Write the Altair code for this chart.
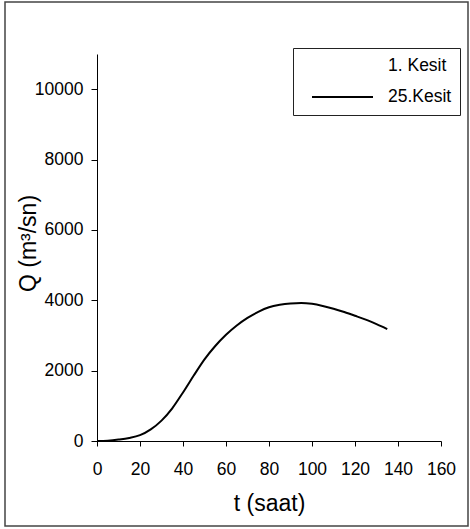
import altair as alt
import pandas as pd

# Discharge hydrograph at cross-section 25 (t in hours, Q in m3/s)
t_saat = [0, 5, 10, 15, 20, 25, 30, 35, 40, 45, 50, 55, 60, 65, 70,
          75, 80, 85, 90, 95, 100, 105, 110, 115, 120, 125, 130, 135]
q_25 = [0, 10, 40, 85, 165, 330, 580, 930, 1380, 1860, 2320, 2700, 3020, 3285, 3500,
        3670, 3800, 3870, 3910, 3925, 3900, 3840, 3760, 3665, 3560, 3450, 3320, 3180]
series_names = ["1. Kesit", "25.Kesit"]
x_ticks = [0, 20, 40, 60, 80, 100, 120, 140, 160]
y_ticks = [0, 2000, 4000, 6000, 8000, 10000]

df = pd.DataFrame({"t": t_saat, "Q": q_25, "Kesit": series_names[1]})

FONT = "Liberation Sans"
W, H = 344, 387
PAD_L, PAD_T = 97, 54

line = alt.Chart(df).mark_line(strokeWidth=2, interpolate="monotone").encode(
    x=alt.X("t:Q",
            scale=alt.Scale(domain=[0, 160], nice=False),
            axis=alt.Axis(values=x_ticks, format="d", title="t (saat)",
                          tickSize=5, labelPadding=14, titleY=62,
                          titleBaseline="middle", labelFlush=False)),
    y=alt.Y("Q:Q",
            scale=alt.Scale(domain=[0, 11000], nice=False),
            axis=alt.Axis(values=y_ticks, format="d", title="Q (m³/sn)",
                          tickSize=6, labelPadding=8, titleX=-69, titleY=189,
                          titleBaseline="middle", labelFlush=False)),
    color=alt.Color("Kesit:N",
                    scale=alt.Scale(domain=series_names, range=["#ffffff", "#000000"]),
                    legend=alt.Legend(title=None, orient="none", legendX=196, legendY=-6,
                                      symbolType="stroke", symbolSize=3721,
                                      symbolStrokeWidth=2, symbolOffset=10,
                                      labelOffset=14, clipHeight=20, rowPadding=11,
                                      padding=8, strokeColor="#222222",
                                      fillColor="#ffffff", labelFontSize=17.5,
                                      labelFont=FONT, labelColor="#000000")),
)

# Outer frame around the whole figure
frame = alt.Chart(alt.Data(values=[{"k": 1}])).mark_rect(
    fill=None, stroke="#444444", strokeWidth=1.5
).encode(
    x=alt.value(5 - PAD_L), x2=alt.value(468 - PAD_L),
    y=alt.value(2 - PAD_T), y2=alt.value(526 - PAD_T),
)

chart = alt.layer(line, frame).properties(
    width=W, height=H,
    autosize=alt.AutoSizeParams(type="none"),
    padding={"left": PAD_L, "top": PAD_T, "right": 470 - PAD_L - W, "bottom": 529 - PAD_T - H},
    background="#ffffff",
).configure_view(stroke=None).configure_axis(
    grid=False, domainColor="#000000", tickColor="#000000", domainWidth=1,
    tickWidth=1, labelColor="#000000", titleColor="#000000",
    labelFont=FONT, titleFont=FONT, labelFontSize=17.5, titleFontSize=23,
    titleFontWeight="normal",
)

chart.save("out.html", embed_options={"renderer": "svg", "actions": False})
